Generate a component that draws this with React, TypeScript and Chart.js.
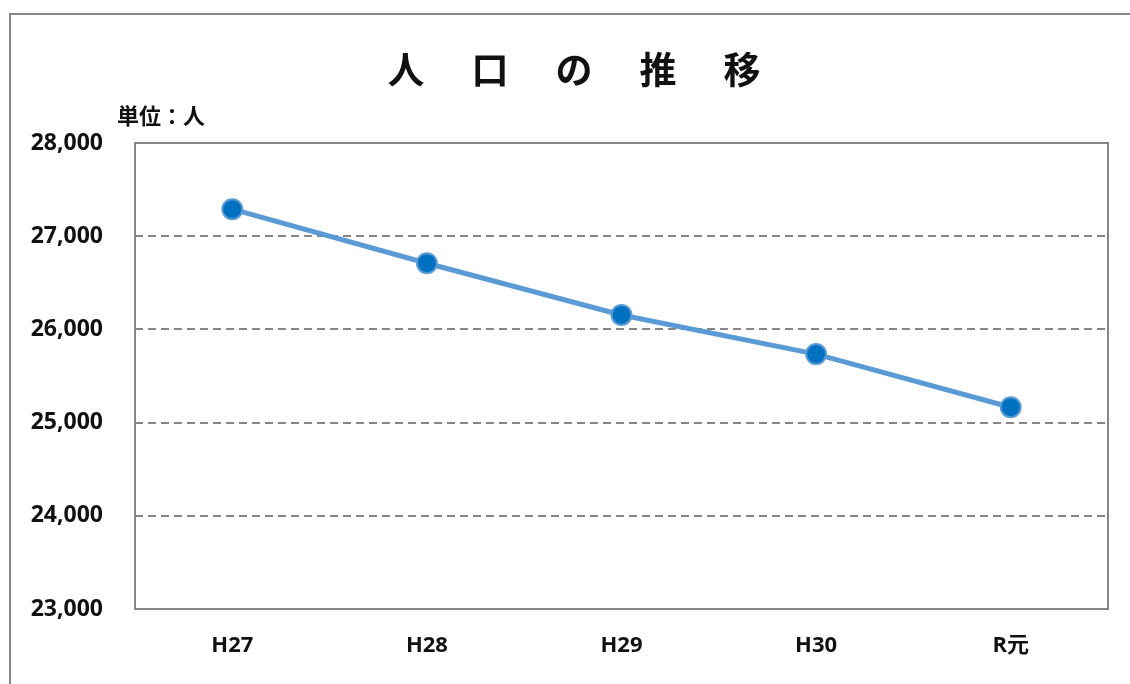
import React, { useEffect, useRef } from "react";
import { Chart, registerables } from "chart.js";

Chart.register(...registerables);

const categories = ["H27", "H28", "H29", "H30", "R元"];
const population = [27290, 26710, 26155, 25735, 25165];
const titleChars = ["人", "口", "の", "推", "移"];
const unitLabel = "単位：人";
const yMin = 23000;
const yMax = 28000;
const yStep = 1000;

const FONT = "'Open Sans', 'Noto Sans CJK JP', sans-serif";
const GRAY = "#878787";

const decorPlugin = {
  id: "decor",
  beforeDatasetsDraw(chart: any) {
    const { ctx, chartArea } = chart;
    ctx.save();
    ctx.strokeStyle = GRAY;
    ctx.lineWidth = 2;
    ctx.strokeRect(chartArea.left, chartArea.top, chartArea.right - chartArea.left, chartArea.bottom - chartArea.top);
    ctx.restore();
  },
  afterDraw(chart: any) {
    const { ctx } = chart;
    ctx.save();
    ctx.strokeStyle = GRAY;
    ctx.lineWidth = 2;
    ctx.beginPath();
    ctx.moveTo(10, 684);
    ctx.lineTo(10, 14);
    ctx.lineTo(1130, 14);
    ctx.stroke();
    ctx.fillStyle = "#111";
    ctx.font = `bold 37px ${FONT}`;
    ctx.textAlign = "center";
    ctx.textBaseline = "middle";
    const cx = 574;
    const gap = 84;
    titleChars.forEach((c, i) => {
      ctx.fillText(c, cx + (i - (titleChars.length - 1) / 2) * gap, 73);
    });
    ctx.font = `bold 22px ${FONT}`;
    ctx.textAlign = "left";
    ctx.fillText(unitLabel, 117, 118);
    ctx.restore();
  },
};

export default function App() {
  const ref = useRef<HTMLCanvasElement | null>(null);
  useEffect(() => {
    if (!ref.current) return;
    const chart = new Chart(ref.current, {
      type: "line",
      data: {
        labels: categories,
        datasets: [
          {
            data: population,
            borderColor: "#5B9BD5",
            borderWidth: 5,
            pointBackgroundColor: "#0070C0",
            pointBorderColor: "#5B9BD5",
            pointBorderWidth: 2,
            pointRadius: 10,
            tension: 0,
          },
        ],
      },
      options: {
        animation: false,
        responsive: true,
        maintainAspectRatio: false,
        layout: { padding: { top: 143, right: 22, bottom: 0, left: 0 } },
        plugins: { legend: { display: false }, title: { display: false }, tooltip: { enabled: false } },
        scales: {
          x: {
            offset: true,
            grid: { display: false, drawTicks: false },
            border: { display: false },
            ticks: { color: "#111", font: { family: FONT, size: 22, weight: "bold" }, padding: 24 },
            afterFit: (s: any) => {
              s.height = 75;
            },
          },
          y: {
            min: yMin,
            max: yMax,
            grid: {
              drawTicks: false,
              color: (c: any) => (c.tick && (c.tick.value === yMin || c.tick.value === yMax) ? "rgba(0,0,0,0)" : GRAY),
              lineWidth: 2,
            },
            border: { display: false, dash: [8, 5] },
            ticks: {
              stepSize: yStep,
              color: "#111",
              font: { family: FONT, size: 23, weight: "bold" },
              padding: 32,
              callback: (v: any) => Number(v).toLocaleString("en-US"),
            },
            afterFit: (s: any) => {
              s.width = 135;
            },
          },
        },
      },
      plugins: [decorPlugin],
    } as any);
    return () => chart.destroy();
  }, []);
  return (
    <div style={{ position: "fixed", left: 0, top: 0, width: 1130, height: 684, background: "#fff" }}>
      <canvas ref={ref} />
    </div>
  );
}
